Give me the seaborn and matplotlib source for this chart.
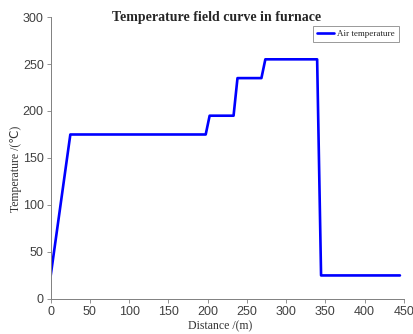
import numpy as np
import pandas as pd
import matplotlib
matplotlib.use('Agg')
import matplotlib.pyplot as plt
import seaborn as sns

# furnace profile: distance (cm) vs air temperature
distance = [0, 25, 197.5, 202.5, 233, 238, 268.5, 273.5, 339.5, 344.5, 445]
temperature = [25, 175, 175, 195, 195, 235, 235, 255, 255, 25, 25]
x_ticks = [0, 50, 100, 150, 200, 250, 300, 350, 400, 450]
y_ticks = [0, 50, 100, 150, 200, 250, 300]

df = pd.DataFrame({'Distance': distance, 'Temperature': temperature})

sns.set_style("white")
plt.rcParams['font.family'] = ['Liberation Sans', 'DejaVu Sans']

fig = plt.figure(figsize=(4.14, 3.34), dpi=100)
ax = fig.add_axes([0.1225, 0.105, 0.853, 0.844])

sns.lineplot(data=df, x='Distance', y='Temperature', ax=ax, color='#0000ff',
             linewidth=1.9, label='Air temperature', sort=False)

ax.set_xlim(0, 450)
ax.set_ylim(0, 300)
ax.set_xticks(x_ticks)
ax.set_yticks(y_ticks)
ax.tick_params(axis='both', direction='out', length=3, width=0.6, color='#808080',
               labelcolor='#404040', labelsize=9, pad=2, bottom=True, left=True)
for s in ['top', 'right']:
    ax.spines[s].set_visible(False)
for s in ['left', 'bottom']:
    ax.spines[s].set_color('#808080')
    ax.spines[s].set_linewidth(0.7)

ax.text(0.47, 1.0, 'Temperature field curve in furnace', transform=ax.transAxes,
        family='Liberation Serif', fontweight='bold', fontsize=10, ha='center', va='center')
ax.set_xlabel('Distance /(m)', family=['Liberation Serif', 'DejaVu Sans'], fontsize=8.5,
              labelpad=3, color='#333333')
ax.xaxis.set_label_coords(0.48, -0.075)
ax.set_ylabel('Temperature /(℃)', family=['Liberation Serif', 'DejaVu Sans'], fontsize=8.5,
              color='#333333')
ax.yaxis.set_label_coords(-0.081, 0.463)

leg = ax.legend(loc='upper right', bbox_to_anchor=(0.986, 0.969), borderaxespad=0,
                prop={'family': 'Liberation Serif', 'size': 6.5},
                frameon=True, fancybox=False, handlelength=1.8, borderpad=0.45, handletextpad=0.4)
leg.get_frame().set_edgecolor('#808080')
leg.get_frame().set_linewidth(0.7)

fig.savefig('out.png', dpi=100)
